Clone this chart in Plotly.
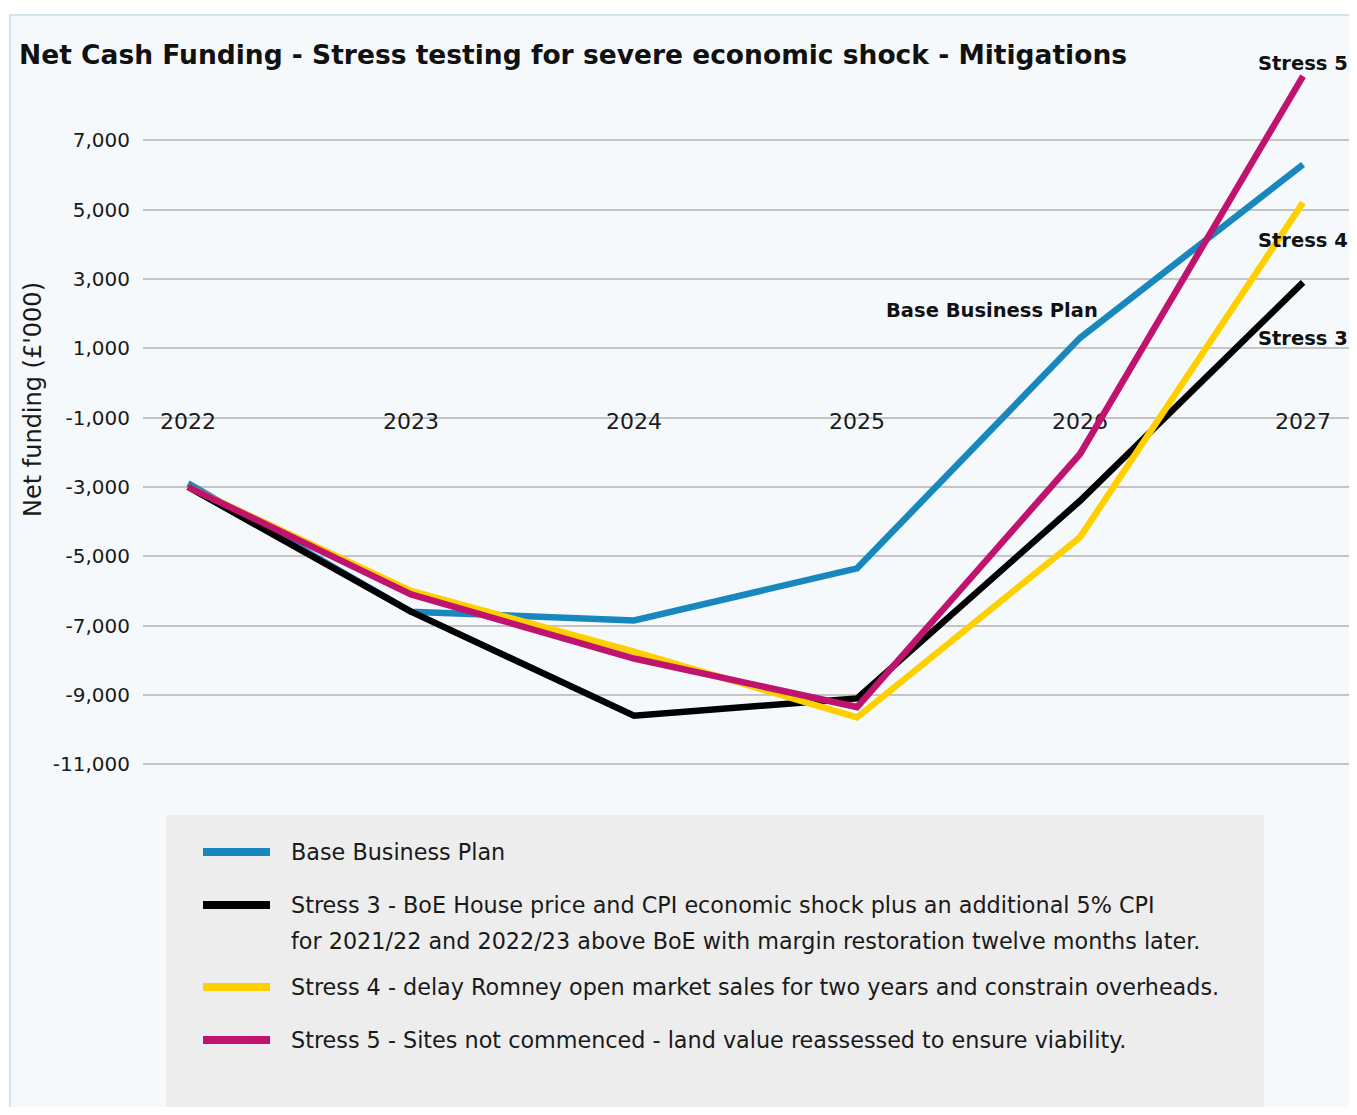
import plotly.graph_objects as go

# The page body has an 8px margin; the figure is sized and positioned to compensate.
OFF = 8
W, H = 1357 - 2 * OFF, 1115 - 2 * OFF

years = [2022, 2023, 2024, 2025, 2026, 2027]
base_plan = [-2900, -6600, -6850, -5350, 1300, 6300]
stress3 = [-3000, -6600, -9600, -9100, -3400, 2900]
stress4 = [-3000, -6000, -7750, -9650, -4450, 5200]
stress5 = [-3000, -6100, -7950, -9350, -2050, 8850]
y_ticks = [7000, 5000, 3000, 1000, -1000, -3000, -5000, -7000, -9000, -11000]

series = [
    ("Base Business Plan", base_plan, "#1787be"),
    ("Stress 3 - BoE House price and CPI economic shock plus an additional 5% CPI", stress3, "#000000"),
    ("Stress 4 - delay Romney open market sales for two years and constrain overheads.", stress4, "#ffd000"),
    ("Stress 5 - Sites not commenced - land value reassessed to ensure viability.", stress5, "#c0136f"),
]

FONT = "DejaVu Sans"
TXT = "#1a1a1a"

def px(x):
    return (x - OFF) / W

def py(y):
    return 1 - (y - OFF) / H

fig = go.Figure()
for name, vals, col in series:
    fig.add_trace(go.Scatter(x=years, y=vals, mode="lines", name=name,
                             line=dict(color=col, width=6.5, shape="linear"),
                             showlegend=False, hoverinfo="x+y"))

shapes = []
# outer panel
shapes.append(dict(type="rect", xref="paper", yref="paper", x0=px(10), x1=px(1362), y0=py(1120), y1=py(15),
                   fillcolor="#f5f9fc", line=dict(color="#c6dce8", width=1.5), layer="below"))
# legend box
shapes.append(dict(type="rect", xref="paper", yref="paper", x0=px(166), x1=px(1264), y0=py(1108), y1=py(815),
                   fillcolor="#ededed", line=dict(width=0), layer="below"))

annotations = []
leg_y = [852, 905, 987, 1040]
for (name, vals, col), yy in zip(series, leg_y):
    shapes.append(dict(type="line", xref="paper", yref="paper", x0=px(203), x1=px(270), y0=py(yy), y1=py(yy),
                       line=dict(color=col, width=8)))
    annotations.append(dict(text=name, xref="paper", yref="paper", x=px(289), y=py(yy), xanchor="left",
                            yanchor="middle", showarrow=False, font=dict(family=FONT, size=22.3, color=TXT)))
annotations.append(dict(text="for 2021/22 and 2022/23 above BoE with margin restoration twelve months later.",
                        xref="paper", yref="paper", x=px(289), y=py(941), xanchor="left", yanchor="middle",
                        showarrow=False, font=dict(family=FONT, size=22.3, color=TXT)))

# title
annotations.append(dict(text="<b>Net Cash Funding - Stress testing for severe economic shock - Mitigations</b>",
                        xref="paper", yref="paper", x=px(17), y=py(55), xanchor="left", yanchor="middle",
                        showarrow=False, font=dict(family=FONT, size=26.5, color="#111111")))
# y axis title
annotations.append(dict(text="Net funding (£'000)", xref="paper", yref="paper", x=px(33), y=py(400),
                        xanchor="center", yanchor="middle", textangle=-90, showarrow=False,
                        font=dict(family=FONT, size=24, color=TXT)))
# series labels
for txt, xx, yy in [("Stress 5", 1303, 64), ("Stress 4", 1303, 240), ("Stress 3", 1303, 338),
                    ("Base Business Plan", 992, 310)]:
    annotations.append(dict(text="<b>" + txt + "</b>", xref="paper", yref="paper", x=px(xx), y=py(yy),
                            xanchor="center", yanchor="middle", showarrow=False,
                            font=dict(family=FONT, size=19.5, color="#111111")))

fig.update_layout(
    width=W, height=H,
    margin=dict(l=0, r=0, t=0, b=0),
    paper_bgcolor="#ffffff",
    plot_bgcolor="rgba(0,0,0,0)",
    template="none",
    showlegend=False,
    shapes=shapes,
    annotations=annotations,
    xaxis=dict(domain=[px(143), 1.0], range=[2021.798, 2027.242 - 5.444 * 8 / 1214], tickvals=years,
               ticktext=[str(y) for y in years], showgrid=False, zeroline=False, showline=False,
               anchor="free", position=py(406), ticks="", ticklen=0, layer="below traces",
               tickfont=dict(family=FONT, size=22, color=TXT), automargin=False),
    yaxis=dict(domain=[py(800), py(20)], range=[-12031, 10467], tickvals=y_ticks,
               ticktext=[f"{v:,}" for v in y_ticks], showgrid=True, gridcolor="#c4c4c4", gridwidth=2,
               zeroline=False, showline=False, ticks="outside", ticklen=8, tickcolor="rgba(0,0,0,0)",
               tickfont=dict(family=FONT, size=20, color=TXT), automargin=False, layer="below traces"),
)

fig.write_html("out.html")
